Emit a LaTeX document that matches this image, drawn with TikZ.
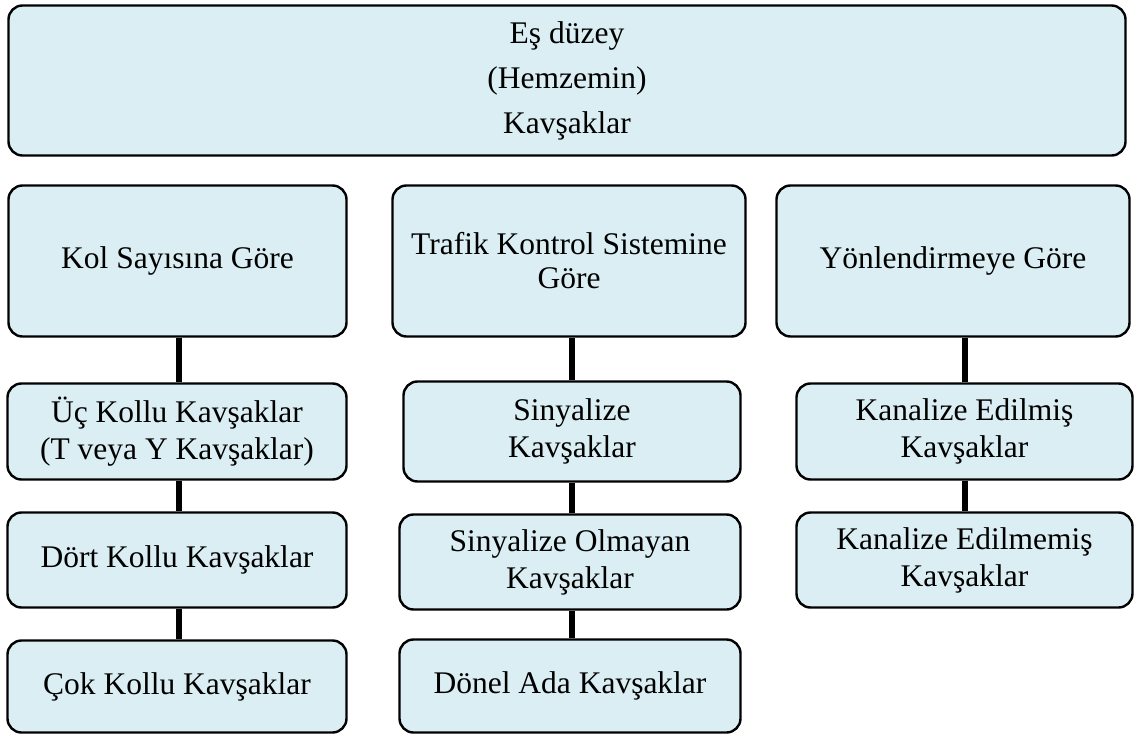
\documentclass[tikz,border=0pt]{standalone}
\usepackage{fontspec}
\setmainfont{Liberation Serif}
\definecolor{boxfill}{HTML}{DAEEF3}
\begin{document}
\begin{tikzpicture}[x=1pt,y=-1pt,
  box/.style={draw=black, line width=2.4pt, fill=boxfill, rounded corners=14pt,
    align=center, inner sep=0pt, font=\fontsize{31.5}{37}\selectfont},
  link/.style={line width=6pt, draw=black}]
\useasboundingbox (0,0) rectangle (1134,735);

% x position of the links in the first column
\coordinate (col1) at (179,0);

% top level
\node[box, minimum width=1117pt, minimum height=150pt, font=\fontsize{31.5}{45}\selectfont]
  (top) at (567,80.5) {Eş düzey\\(Hemzemin)\\Kavşaklar};

% second row
\node[box, minimum width=338pt, minimum height=151pt] (kol) at (177.5,261) {Kol Sayısına Göre};
\node[box, minimum width=353pt, minimum height=151pt, font=\fontsize{31.5}{34}\selectfont]
  (trafik) at (569,261) {Trafik Kontrol Sistemine\\Göre};
\node[box, minimum width=353pt, minimum height=151pt] (yon) at (953,261) {Yönlendirmeye Göre};

% column 1
\node[box, minimum width=339pt, minimum height=96pt] (uc) at (177,431.5) {Üç Kollu Kavşaklar\\(T veya Y Kavşaklar)};
\node[box, minimum width=339pt, minimum height=95pt] (dort) at (177,560) {Dört Kollu Kavşaklar};
\node[box, minimum width=339pt, minimum height=92pt] (cok) at (177,686.5) {Çok Kollu Kavşaklar};

% column 2
\node[box, minimum width=337pt, minimum height=100pt] (sin) at (572,431.5) {Sinyalize\\Kavşaklar};
\node[box, minimum width=341pt, minimum height=95pt] (sino) at (570,562) {Sinyalize Olmayan\\Kavşaklar};
\node[box, minimum width=341pt, minimum height=93pt] (donel) at (570,686) {Dönel Ada Kavşaklar};

% column 3
\node[box, minimum width=336pt, minimum height=96pt] (kan1) at (964.5,431.5) {Kanalize Edilmiş\\Kavşaklar};
\node[box, minimum width=336pt, minimum height=95pt] (kan2) at (964.5,560) {Kanalize Edilmemiş\\Kavşaklar};

% vertical links between boxes
\draw[link] (col1 |- kol.south) -- (col1 |- uc.north);
\draw[link] (col1 |- uc.south) -- (col1 |- dort.north);
\draw[link] (col1 |- dort.south) -- (col1 |- cok.north);
\draw[link] (sin.north) -- (sin.north |- trafik.south);
\draw[link] (sin.south) -- (sin.south |- sino.north);
\draw[link] (sin.south |- sino.south) -- (sin.south |- donel.north);
\draw[link] (kan1.north) -- (kan1.north |- yon.south);
\draw[link] (kan1.south) -- (kan2.north);
\end{tikzpicture}
\end{document}
